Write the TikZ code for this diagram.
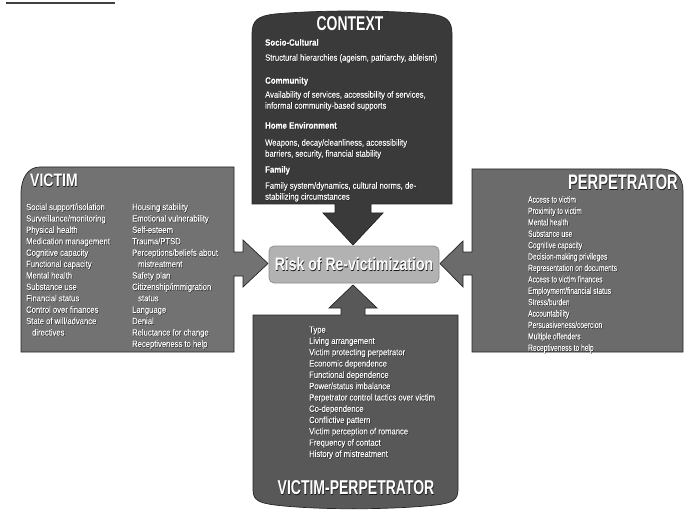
\documentclass[tikz,border=0pt]{standalone}
\usepackage{fontspec}
\setmainfont{Liberation Sans}
\newfontfamily\itemf{Liberation Sans}[FakeStretch=0.85,FakeBold=0.3]
\newfontfamily\perpf{Liberation Sans}[FakeStretch=0.74,FakeBold=0.3]
\newfontfamily\titlef{Liberation Sans}[FakeStretch=0.70]
\newfontfamily\titleg{Liberation Sans}[FakeStretch=0.78]
\definecolor{ctxfill}{HTML}{3A3A3A}
\definecolor{vicfill}{HTML}{727272}
\definecolor{perpfill}{HTML}{6B6B6B}
\definecolor{vpfill}{HTML}{585858}
\definecolor{riskfill}{HTML}{B2B2B2}
\definecolor{riskedge}{HTML}{8C8C8C}
\definecolor{edgec}{HTML}{262626}
\definecolor{shadowc}{HTML}{1A1A1A}
\definecolor{rulec}{HTML}{404040}
\newcommand\shd[1]{\leavevmode\rlap{\textcolor{shadowc}{\raisebox{-0.5pt}{\kern0.5pt#1}}}#1}
\newcommand\itm[1]{\strut\shd{#1}}
\tikzset{
  shapebox/.style={draw=edgec, line width=0.7pt},
  txt/.style={inner sep=0pt, text=white, align=left, anchor=north west},
  ctxitems/.style={txt, font=\itemf\fontsize{9}{11}\selectfont},
  ctxhead/.style={txt, font=\itemf\bfseries\fontsize{9.2}{11}\selectfont},
  vicitems/.style={txt, font=\itemf\fontsize{9}{11.4}\selectfont},
  perpitems/.style={txt, font=\perpf\fontsize{9}{11.4}\selectfont},
  vpitems/.style={txt, font=\itemf\fontsize{9}{11.3}\selectfont},
  bigtitle/.style={inner sep=0pt, text=white, font=\titlef\bfseries\fontsize{20}{22}\selectfont},
  risk/.style={draw=riskedge, fill=riskfill, line width=0.7pt, rounded corners=5pt,
    minimum width=170pt, minimum height=37pt, inner sep=0pt, text=white,
    font=\titleg\bfseries\fontsize{18}{20}\selectfont},
}
\begin{document}
\begin{tikzpicture}[x=1pt,y=-1pt]
\useasboundingbox (0,0) rectangle (685,513);
\fill[white] (0,0) rectangle (685,513);
% top rule
\coordinate (r1) at (6,2.8);
\coordinate (r2) at (115,2.8);
\draw[rulec, line width=1.8pt] (r1) -- (r2);
% context with down arrow
\filldraw[shapebox, fill=ctxfill] (252,204) -- (252,34) .. controls (252,20) and (258,16) .. (275,14)
  .. controls (320,10) and (385,10) .. (430,14) .. controls (446,16) and (452,20) .. (452,34)
  -- (452,204) -- (371,204) -- (371,213) -- (383,213) -- (353,245) -- (323,213) -- (335,213) -- (335,204) -- cycle;
% victim with right arrow
\filldraw[shapebox, fill=vicfill] (234,167) -- (40,167) .. controls (28,167) and (21,178) .. (21,194)
  -- (21,352) -- (234,352) -- (234,276) -- (243,276) -- (243,287) -- (268,263.5) -- (243,240)
  -- (243,252) -- (234,252) -- cycle;
% perpetrator with left arrow
\filldraw[shapebox, fill=perpfill] (472,169) -- (661,169) .. controls (675,169) and (683,177) .. (683,191)
  -- (683,352) -- (472,352) -- (472,275) -- (463,275) -- (463,287) -- (440,263.5) -- (463,241)
  -- (463,252) -- (472,252) -- cycle;
% victim-perpetrator with up arrow
\filldraw[shapebox, fill=vpfill] (253,315) -- (341,315) -- (341,308) -- (329,308) -- (353,285) -- (377,308)
  -- (365,308) -- (365,315) -- (458,315) -- (458,490) .. controls (458,500) and (452,503) .. (436,505)
  .. controls (390,510) and (316,510) .. (275,505) .. controls (259,503) and (253,500) .. (253,490) -- cycle;
% centre
\node[risk] (risk) at (354,264.5) {\shd{Risk of Re-victimization}};
% context text
\node[bigtitle] (ctxT) at (350,23.5) {\shd{CONTEXT}};
\node[ctxhead] (ch1) at (265,37.8) {\itm{Socio-Cultural}};
\node[ctxitems] (ci1) at (265,52.8) {\itm{Structural hierarchies (ageism, patriarchy, ableism)}};
\node[ctxhead] (ch2) at (265,75.8) {\itm{Community}};
\node[ctxitems] (ci2) at (265,89.8) {\itm{Availability of services, accessibility of services,}\\\itm{informal community-based supports}};
\node[ctxhead] (ch3) at (265,120.8) {\itm{Home Environment}};
\node[ctxitems] (ci3) at (265,137.8) {\itm{Weapons, decay/cleanliness, accessibility}\\\itm{barriers, security, financial stability}};
\node[ctxhead] (ch4) at (265,164.8) {\itm{Family}};
\node[ctxitems] (ci4) at (265,180.8) {\itm{Family system/dynamics, cultural norms, de-}\\\itm{stabilizing circumstances}};
% victim text
\node[inner sep=0pt, text=white, anchor=west, font=\titleg\bfseries\fontsize{18}{20}\selectfont] (vicT) at (30,181) {\shd{VICTIM}};
\node[vicitems] (v1) at (26,202) {\itm{Social support/isolation}\\\itm{Surveillance/monitoring}\\\itm{Physical health}\\\itm{Medication management}\\\itm{Cognitive capacity}\\\itm{Functional capacity}\\\itm{Mental health}\\\itm{Substance use}\\\itm{Financial status}\\\itm{Control over finances}\\\itm{State of will/advance}\\\itm{\hspace*{6pt}directives}};
\node[vicitems] (v2) at (132,202) {\itm{Housing stability}\\\itm{Emotional vulnerability}\\\itm{Self-esteem}\\\itm{Trauma/PTSD}\\\itm{Perceptions/beliefs about}\\\itm{\hspace*{6pt}mistreatment}\\\itm{Safety plan}\\\itm{Citizenship/immigration}\\\itm{\hspace*{6pt}status}\\\itm{Language}\\\itm{Denial}\\\itm{Reluctance for change}\\\itm{Receptiveness to help}};
% perpetrator text
\node[bigtitle, anchor=east, font=\titlef\bfseries\fontsize{21}{23}\selectfont] (perpT) at (678,183) {\shd{PERPETRATOR}};
\node[perpitems] (p1) at (528,194.5) {\itm{Access to victim}\\\itm{Proximity to victim}\\\itm{Mental health}\\\itm{Substance use}\\\itm{Cognitive capacity}\\\itm{Decision-making privileges}\\\itm{Representation on documents}\\\itm{Access to victim finances}\\\itm{Employment/financial status}\\\itm{Stress/burden}\\\itm{Accountability}\\\itm{Persuasiveness/coercion}\\\itm{Multiple offenders}\\\itm{Receptiveness to help}};
% victim-perpetrator text
\node[vpitems] (vp1) at (309,324.6) {\itm{Type}\\\itm{Living arrangement}\\\itm{Victim protecting perpetrator}\\\itm{Economic dependence}\\\itm{Functional dependence}\\\itm{Power/status imbalance}\\\itm{Perpetrator control tactics over victim}\\\itm{Co-dependence}\\\itm{Conflictive pattern}\\\itm{Victim perception of romance}\\\itm{Frequency of contact}\\\itm{History of mistreatment}};
\node[bigtitle] (vpT) at (356,488) {\shd{VICTIM-PERPETRATOR}};
\end{tikzpicture}
\end{document}
